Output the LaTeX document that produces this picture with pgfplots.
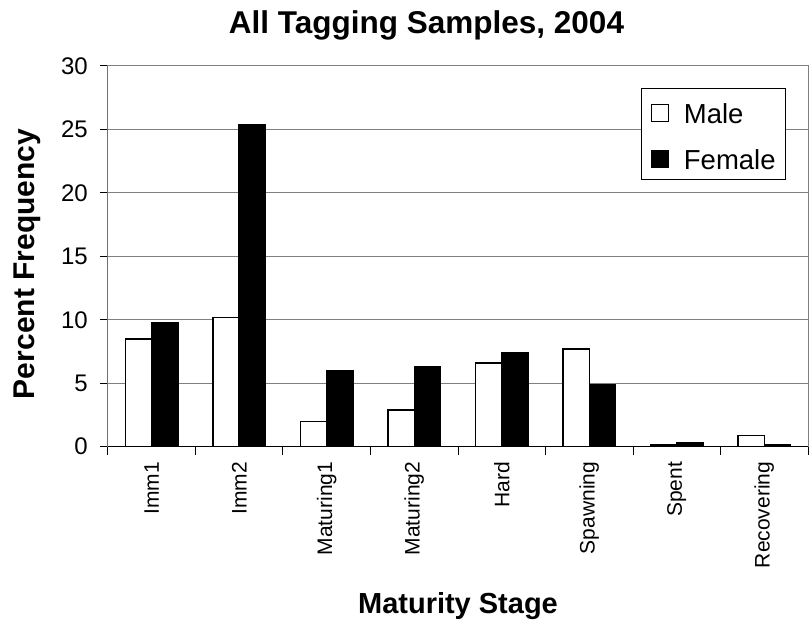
\documentclass[border=0pt]{standalone}
\usepackage{pgfplots}
\pgfplotsset{compat=1.18}
\usepackage{fontspec}
\setmainfont{Liberation Sans}
\definecolor{gridgray}{RGB}{128,128,128}

% Percent frequency by maturity stage (x = 0..7 are the stages)
\pgfplotstableread{
x male female
0 8.5  9.8
1 10.2 25.4
2 2.0  6.0
3 2.9  6.3
4 6.6  7.4
5 7.7  4.9
6 0.13 0.35
7 0.9  0.13
}\stages

\begin{document}
\begin{tikzpicture}
\begin{axis}[
  width=700pt, height=380.7pt, scale only axis,
  xmin=-0.5, xmax=7.5, ymin=0, ymax=30,
  xtick={-0.5,0.5,...,7.5},
  x tick label as interval,
  xticklabels={Imm1,Imm2,Maturing1,Maturing2,Hard,Spawning,Spent,Recovering},
  ytick={0,5,...,30},
  tick pos=left,
  tick align=outside,
  major tick length=8pt,
  tick style={black, line width=1pt},
  ymajorgrids=true,
  grid style={gridgray, line width=1pt},
  axis line style={gridgray, line width=1pt},
  /pgf/number format/assume math mode=true,
  yticklabel style={font=\fontsize{24}{28}\selectfont, anchor=east, inner sep=0pt, xshift=-12pt},
  xticklabel style={font=\fontsize{21}{25}\selectfont, yshift=-7pt, rotate=90, anchor=east, inner sep=0pt},
  title={All Tagging Samples, 2004},
  title style={at={([yshift=26pt]rel axis cs:0.455,1)}, anchor=base,
    font=\bfseries\fontsize{31.5}{37}\selectfont},
  xlabel={Maturity Stage},
  xlabel style={at={([yshift=-166.3pt]rel axis cs:0.5,0)}, anchor=base,
    font=\bfseries\fontsize{29}{34}\selectfont},
  ylabel={Percent Frequency},
  ylabel style={at={([xshift=-73pt]rel axis cs:0,0.48)}, anchor=base, rotate=0,
    font=\bfseries\fontsize{30}{36}\selectfont},
  legend style={at={(rel axis cs:0.9686,0.942)}, anchor=north east,
    draw=black, line width=0.8pt, inner xsep=10pt, inner ysep=10pt,
    font=\fontsize{27.5}{33}\selectfont,
    row sep=21pt,
    nodes={inner sep=0pt, text height=25pt, text depth=0pt}},
  legend cell align=left,
]
\addplot[ybar, bar width=0.3, bar shift=-0.15, fill=white, draw=black, line width=1.5pt,
  legend image code/.code={
    \path[draw=none, fill=none] (0pt,0pt) -- (32pt,0pt);
    \draw[fill=white, draw=black, line width=1pt] (0pt,-11pt) rectangle (17pt,6pt);}]
  table[x=x, y=male] {\stages};
\addlegendentry{Male}
\addplot[ybar, bar width=0.3, bar shift=0.15, fill=black, draw=black, line width=1.5pt,
  legend image code/.code={
    \path[draw=none, fill=none] (0pt,0pt) -- (32pt,0pt);
    \draw[fill=black, draw=black, line width=1pt] (0pt,-11pt) rectangle (17pt,6pt);}]
  table[x=x, y=female] {\stages};
\addlegendentry{Female}
% value and category axes in black over the grey plot-area frame
\draw[black, line width=1pt] (rel axis cs:0,0) -- (rel axis cs:0,1);
\draw[black, line width=1pt] (rel axis cs:0,0) -- (rel axis cs:1,0);
\end{axis}
\pgfresetboundingbox
\path (-108pt,-177.3pt) rectangle (704pt,446.7pt);
\end{tikzpicture}
\end{document}
